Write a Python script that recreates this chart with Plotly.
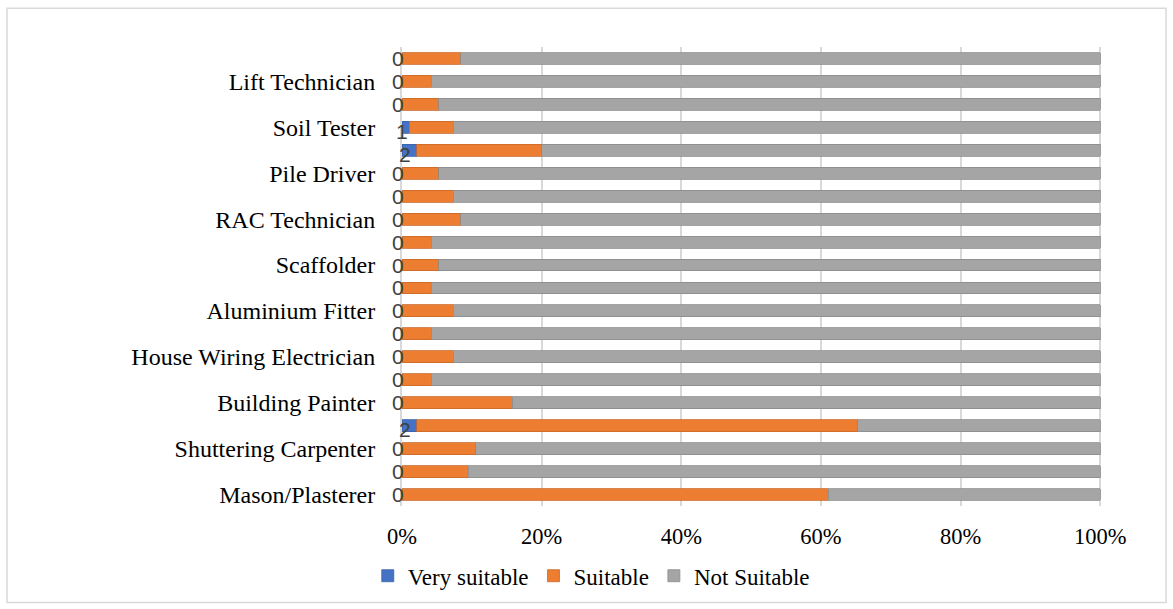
import plotly.graph_objects as go

# Trades, listed from the bottom bar upwards; only every other bar carries a tick label
trade_labels = [
    "Mason/Plasterer", "Shuttering Carpenter", "Building Painter",
    "House Wiring Electrician", "Aluminium Fitter", "Scaffolder",
    "RAC Technician", "Pile Driver", "Soil Tester", "Lift Technician",
]
n_bars = 20
labelled_positions = list(range(0, n_bars, 2))

# Respondent counts per rating (bottom bar first)
respondents = 95
very_suitable = [0, 0, 0, 2, 0, 0, 0, 0, 0, 0, 0, 0, 0, 0, 0, 2, 1, 0, 0, 0]
suitable = [58, 9, 10, 60, 15, 4, 7, 4, 7, 4, 5, 4, 8, 7, 5, 17, 6, 5, 4, 8]
not_suitable = [respondents - v - s for v, s in zip(very_suitable, suitable)]

series_names = ["Very suitable", "Suitable", "Not Suitable"]
series_colors = ["#4472C4", "#ED7D31", "#A5A5A5"]
edge_colors = ["#3A62A8", "#C9692A", "#8C8C8C"]

positions = list(range(n_bars))
serif = "Liberation Serif, Times New Roman, serif"

fig = go.Figure()
for name, values, color, edge in zip(series_names,
                                     [very_suitable, suitable, not_suitable],
                                     series_colors, edge_colors):
    fig.add_trace(go.Bar(
        y=positions, x=values, name=name, orientation="h",
        marker=dict(color=color, line=dict(color=edge, width=0.8)),
        hoverinfo="x+name",
    ))

# Count labels for the "Very suitable" segment, centred on that segment
annotations = []
for pos, v, s, n in zip(positions, very_suitable, suitable, not_suitable):
    total = v + s + n
    centre = v / total * 100 / 2
    annotations.append(dict(
        x=centre, y=pos, xref="x", yref="y", text=str(v), showarrow=False,
        xshift=-4, yshift=-4 if v else 0,
        font=dict(family="Liberation Sans, Arial, sans-serif", size=21, color="#404040"),
    ))

fig.update_layout(
    barmode="stack",
    barnorm="percent",
    bargap=0.48,
    width=1173, height=609,
    margin=dict(l=402, r=70, t=47, b=101),
    paper_bgcolor="white",
    plot_bgcolor="white",
    font=dict(family=serif, size=24, color="#000000"),
    annotations=annotations,
    showlegend=True,
    legend=dict(
        orientation="h", x=0.27, xanchor="center", y=-0.152, yanchor="middle",
        font=dict(family=serif, size=23, color="#000000"),
        traceorder="normal", itemwidth=30,
    ),
    xaxis=dict(
        range=[0, 100.4], tickvals=[0, 20, 40, 60, 80, 100],
        ticktext=["0%", "20%", "40%", "60%", "80%", "100%"],
        showgrid=True, gridcolor="#D9D9D9", gridwidth=1.5,
        zeroline=False, showline=False, ticks="",
        ticklabelstandoff=14, tickfont=dict(family=serif, size=22.5),
    ),
    yaxis=dict(
        range=[-0.5, n_bars - 0.5],
        tickvals=labelled_positions, ticktext=trade_labels,
        showgrid=False, zeroline=False, showline=True,
        linecolor="#D9D9D9", linewidth=2, ticks="",
        ticklabelstandoff=20, tickfont=dict(family=serif, size=24),
    ),
    shapes=[dict(
        type="rect", xref="paper", yref="paper",
        x0=-0.5635, x1=1.0899, y0=-0.2104, y1=1.0846,
        line=dict(color="#D9D9D9", width=1.5), fillcolor="rgba(0,0,0,0)",
        layer="below",
    )],
)

fig.write_html("out.html")
